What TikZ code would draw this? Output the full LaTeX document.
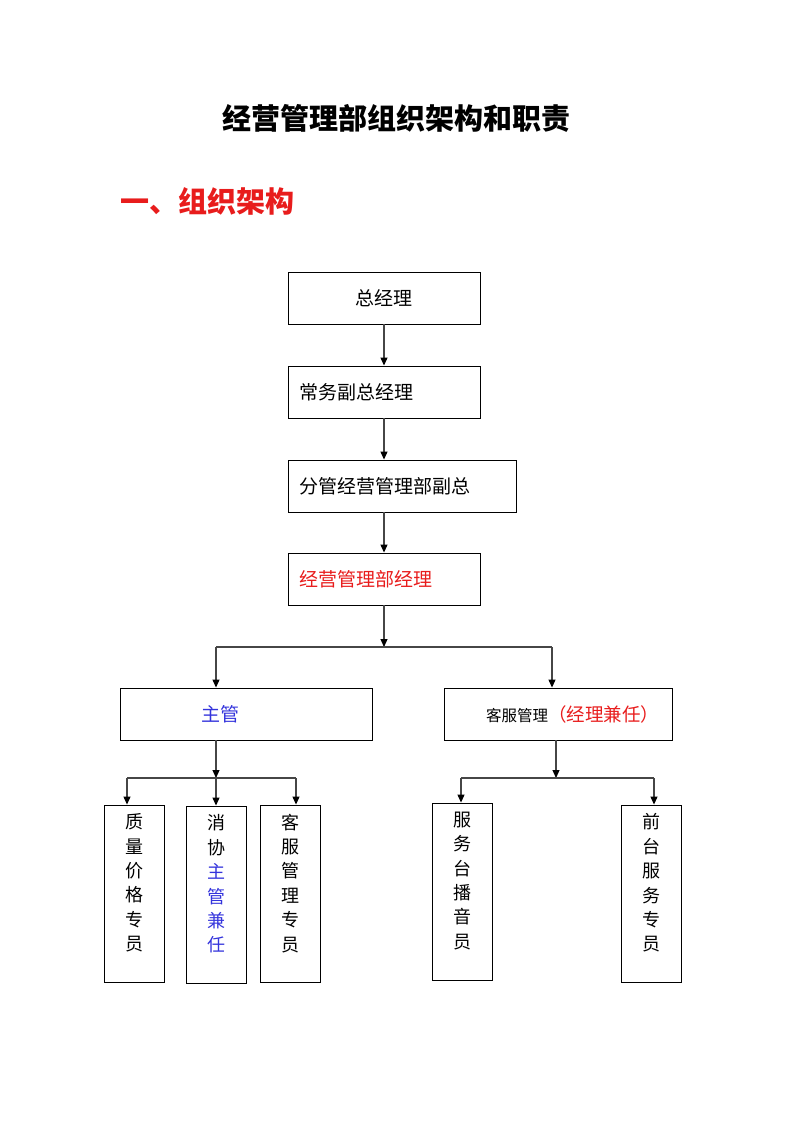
\documentclass[tikz,border=0pt]{standalone}
\usepackage{fontspec}
\setmainfont{Noto Sans CJK SC}
\usetikzlibrary{arrows.meta}
\definecolor{myred}{RGB}{232,28,28}
\definecolor{myblue}{RGB}{52,52,220}
\definecolor{linegray}{RGB}{70,70,70}
\begin{document}
\begin{tikzpicture}[x=1pt,y=-1pt,
 box/.style={draw=black,line width=0.9pt,inner sep=0pt,minimum height=52pt},
 lbox/.style={box,align=left,inner xsep=11pt,font=\fontsize{19}{22}\selectfont},
 vbox/.style={draw=black,line width=0.9pt,minimum width=60pt,inner sep=0pt},
 vtext/.style={align=center,inner sep=0pt,anchor=north,font=\fontsize{18}{24.4}\selectfont},
 conn/.style={draw=linegray,line width=1.1pt},
 arr/.style={conn,-{Triangle[length=8pt,width=7pt,color=black]}}
]
\useasboundingbox (0,0) rectangle (793,1122);
% titles
\node[font=\fontsize{29}{32}\selectfont\bfseries] (title) at (396.5,118) {经营管理部组织架构和职责};
\node[font=\fontsize{29}{32}\selectfont\bfseries,text=myred,anchor=west,inner sep=0pt] (head) at (120,201) {一、组织架构};
% main chain
\node[box,minimum width=192pt,font=\fontsize{19}{22}\selectfont] (zjl) at (384,298) {总经理};
\node[lbox,text width=170pt] (cw) at (384,392) {常务副总经理};
\node[lbox,text width=206pt] (fg) at (402,486) {分管经营管理部副总};
\node[lbox,text width=170pt,text=myred] (jl) at (384,579) {经营管理部经理};
% second level
\node[box,minimum width=252pt] (zg) at (246,714) {};
\node[font=\fontsize{19}{22}\selectfont,text=myblue,inner sep=0pt] (zgt) at (220,714) {主管};
\node[box,minimum width=228pt] (kf) at (558,714) {};
\node[anchor=west,inner sep=0pt] (kft) at (486,714) {\fontsize{15.5}{18}\selectfont 客服管理\fontsize{18.5}{22}\selectfont\textcolor{myred}{（经理兼任）}};
% bottom boxes
\node[vbox,minimum height=177pt] (b1) at (134,893.5) {};
\node[vbox,minimum height=177pt] (b2) at (216,894.5) {};
\node[vbox,minimum height=177pt] (b3) at (290,893.5) {};
\node[vbox,minimum height=177pt] (b4) at (462,891.5) {};
\node[vbox,minimum height=177pt] (b5) at (651,893.5) {};
\node[vtext] (t1) at ([yshift=-9pt]b1.north) {质\\量\\价\\格\\专\\员};
\node[vtext] (t2) at ([yshift=-9pt]b2.north) {消\\协\\\textcolor{myblue}{主}\\\textcolor{myblue}{管}\\\textcolor{myblue}{兼}\\\textcolor{myblue}{任}};
\node[vtext] (t3) at ([yshift=-9pt]b3.north) {客\\服\\管\\理\\专\\员};
\node[vtext] (t4) at ([yshift=-9pt]b4.north) {服\\务\\台\\播\\音\\员};
\node[vtext] (t5) at ([yshift=-9pt]b5.north) {前\\台\\服\\务\\专\\员};
% junctions
\coordinate (j1) at (384,647);
\coordinate (j1l) at (216,647);
\coordinate (j1r) at (552,647);
\coordinate (j2) at (216,778);
\coordinate (j2l) at (127,778);
\coordinate (j2r) at (296,778);
\coordinate (j3) at (556,778);
\coordinate (j3l) at (461,778);
\coordinate (j3r) at (654,778);
% connectors
\draw[arr] (zjl.south) -- (cw.north);
\draw[arr] (cw.south) -- (cw.south |- fg.north);
\draw[arr] (cw.south |- fg.south) -- (jl.north);
\draw[arr] (jl.south) -- (j1);
\draw[conn] (j1l) -- (j1r);
\draw[arr] (j1l) -- (j1l |- zg.north);
\draw[arr] (j1r) -- (j1r |- kf.north);
\draw[arr] (j2 |- zg.south) -- (j2);
\draw[conn] (j2l) -- (j2r);
\draw[arr] (j2l) -- (j2l |- b1.north);
\draw[arr] (j2) -- (b2.north);
\draw[arr] (j2r) -- (j2r |- b3.north);
\draw[arr] (j3 |- kf.south) -- (j3);
\draw[conn] (j3l) -- (j3r);
\draw[arr] (j3l) -- (j3l |- b4.north);
\draw[arr] (j3r) -- (j3r |- b5.north);
\end{tikzpicture}
\end{document}
